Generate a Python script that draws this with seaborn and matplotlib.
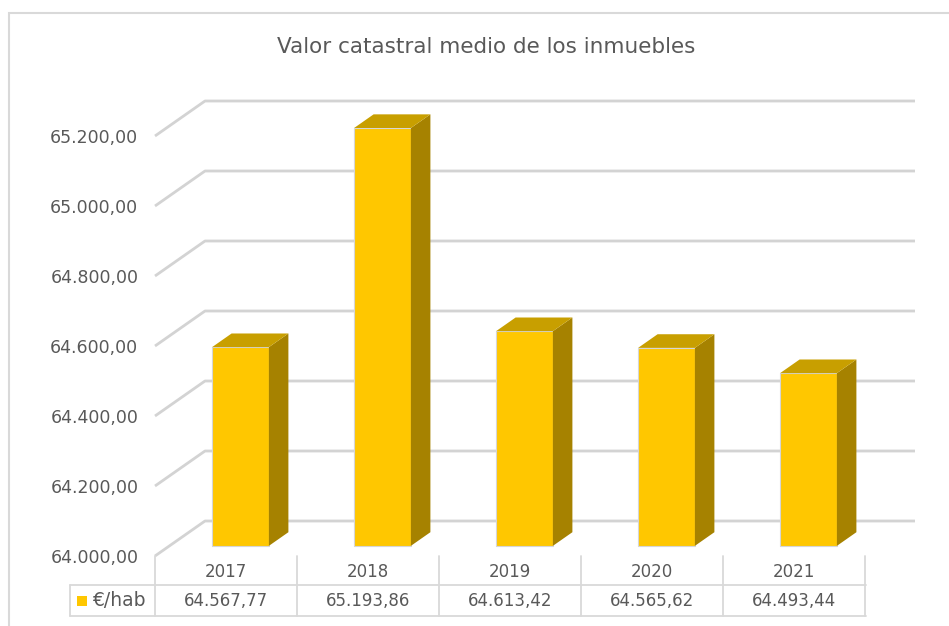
import pandas as pd
import seaborn as sns
import matplotlib.pyplot as plt
import matplotlib.transforms as mtransforms
from matplotlib.patches import Polygon, Rectangle
from matplotlib.lines import Line2D


# ----------------- Data -----------------
years = ["2017", "2018", "2019", "2020", "2021"]
values = [64567.77, 65193.86, 64613.42, 64565.62, 64493.44]
y_ticks = [64000, 64200, 64400, 64600, 64800, 65000, 65200]
series_name = "€/hab"
title = "Valor catastral medio de los inmuebles"

# ----------------- Style -----------------
W, H = 949, 626
GOLD = "#FFC700"
GOLD_TOP = "#C89F00"
GOLD_SIDE = "#A68200"
GRID = "#d3d3d3"
LINE = "#d9d9d9"
TEXT = "#595959"

# fake 3d: a full step in depth moves 50px right and 35px up
PX_PER_CAT = 142
PX_PER_UNIT = 0.35
DX = 50 / PX_PER_CAT
DY = 35 / PX_PER_UNIT
D0, D1 = 0.29, 0.68   # depth of the bars' front and back faces
BAR_W = 0.40
BASE = y_ticks[0]


def fmt_es(v):
    """64567.77 -> 64.567,77"""
    s = f"{v:,.2f}"
    return s.replace(",", "X").replace(".", ",").replace("X", ".")


def fx(px):
    return px / W


def fy(py):
    return 1 - py / H


sns.set_style("white")
plt.rcParams["font.family"] = ["DejaVu Sans"]

fig = plt.figure(figsize=(W / 100, H / 100), dpi=100)
ax = fig.add_axes([fx(155), fy(556), fx(915) - fx(155), fy(100) - fy(556)])
ax.patch.set_alpha(0)

df = pd.DataFrame({"year": years, "value": values})
sns.barplot(data=df, x="year", y="value", color=GOLD, saturation=1,
            width=BAR_W, edgecolor="#d6d6d6", linewidth=0.8, zorder=3, ax=ax)

# move the front faces to their depth and add top / side faces
dd = D1 - D0
for patch, v in zip(ax.patches, values):
    x0 = patch.get_x() + D0 * DX
    y0 = BASE + D0 * DY
    top = v + D0 * DY
    patch.set_x(x0)
    patch.set_y(y0)
    patch.set_height(v - BASE)
    x1 = x0 + BAR_W
    side = [(x1, y0), (x1, top), (x1 + dd * DX, top + dd * DY), (x1 + dd * DX, y0 + dd * DY)]
    cap = [(x0, top), (x1, top), (x1 + dd * DX, top + dd * DY), (x0 + dd * DX, top + dd * DY)]
    ax.add_patch(Polygon(side, closed=True, facecolor=GOLD_SIDE, edgecolor="none", zorder=3))
    ax.add_patch(Polygon(cap, closed=True, facecolor=GOLD_TOP, edgecolor="none", zorder=3))

# gridlines: diagonal on the left wall, then across the back wall
n = len(years)
for t in y_ticks:
    ax.plot([-0.5, -0.5 + DX, n - 0.5 + DX], [t, t + DY, t + DY],
            color=GRID, lw=2, zorder=1, clip_on=False, solid_capstyle="butt")

ax.set_xlim(-0.5, n - 0.5 + DX)
ax.set_ylim(BASE, BASE + 456 / PX_PER_UNIT)
ax.set_yticks(y_ticks, labels=[fmt_es(t) for t in y_ticks])
ax.set_xticks([])
ax.set_xlabel("")
ax.set_ylabel("")
ax.tick_params(axis="y", length=0, pad=12, labelcolor=TEXT, labelsize=12.5)
sns.despine(ax=ax, left=True, bottom=True)

# ----------------- Data table -----------------
trans = mtransforms.blended_transform_factory(ax.transData, fig.transFigure)
for i in range(n + 1):
    ax.plot([i - 0.5, i - 0.5], [fy(556), fy(616)], transform=trans,
            color=LINE, lw=1.3, clip_on=False)
for py in (585, 616):
    fig.add_artist(Line2D([fx(70), fx(866)], [fy(py), fy(py)], color=LINE, lw=1.3))
fig.add_artist(Line2D([fx(70), fx(70)], [fy(585), fy(616)], color=LINE, lw=1.3))

for i, (yr, v) in enumerate(zip(years, values)):
    ax.text(i, fy(572), yr, transform=trans, ha="center", va="center",
            color=TEXT, fontsize=12)
    ax.text(i, fy(601), fmt_es(v), transform=trans, ha="center", va="center",
            color=TEXT, fontsize=12)

fig.add_artist(Rectangle((fx(77), fy(606)), fx(10), 10 / H, facecolor=GOLD, edgecolor="none"))
fig.text(fx(92), fy(601), series_name, ha="left", va="center", color=TEXT, fontsize=13.5)

# ----------------- Title and frame -----------------
fig.text(fx(486), fy(47), title, ha="center", va="center", color=TEXT, fontsize=15.5)
fig.add_artist(Rectangle((fx(9), fy(660)), fx(960) - fx(9), fy(13) - fy(660),
                         fill=False, edgecolor=LINE, lw=1.5))

fig.savefig("out.png", dpi=100)
